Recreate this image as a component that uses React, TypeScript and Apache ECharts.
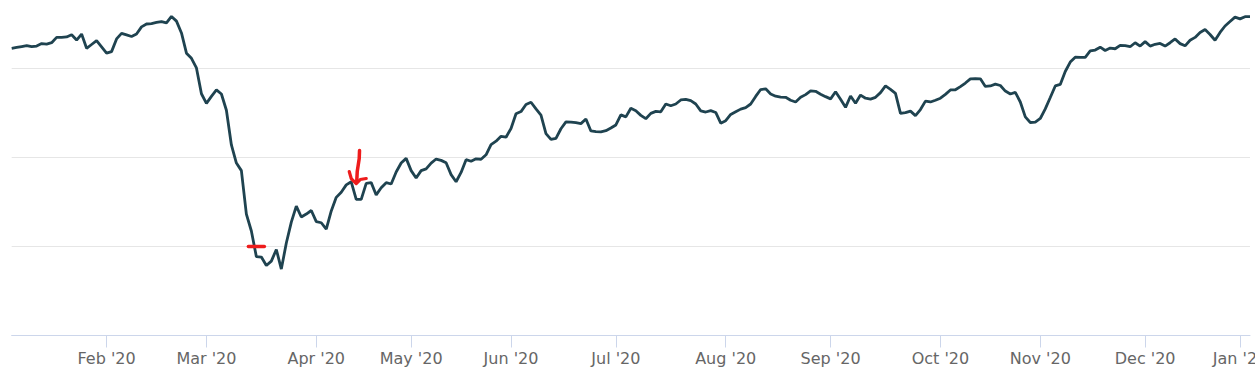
import React, { useEffect, useRef } from "react";
import * as echarts from "echarts";

// Month labels and trading-day values
const monthLabels = ["Jan '20", "Feb '20", "Mar '20", "Apr '20", "May '20", "Jun '20", "Jul '20", "Aug '20", "Sep '20", "Oct '20", "Nov '20", "Dec '20", "Jan '21"];

const jan20 = [3289, 3293, 3297, 3301, 3296, 3299, 3310, 3308, 3314, 3338, 3338, 3340, 3350, 3326, 3353, 3289, 3306, 3323, 3295];
const feb20 = [3267, 3274, 3331, 3356, 3349, 3342, 3353, 3385, 3398, 3400, 3405, 3409, 3403, 3432, 3411, 3358, 3267, 3244, 3201, 3085];
const mar20 = [3042, 3073, 3102, 3084, 3011, 2855, 2774, 2740, 2545, 2469, 2354, 2352, 2314, 2334, 2386, 2298, 2415, 2509, 2581, 2532, 2545, 2561];
const apr20 = [2511, 2506, 2477, 2559, 2620, 2643, 2676, 2690, 2611, 2611, 2683, 2686, 2631, 2663, 2686, 2680, 2734, 2774, 2795];
const may20 = [2740, 2707, 2740, 2748, 2774, 2792, 2786, 2775, 2722, 2690, 2732, 2789, 2782, 2793, 2791, 2811, 2857, 2872, 2894, 2890];
const jun20 = [2929, 2995, 3005, 3037, 3047, 3017, 2989, 2906, 2880, 2885, 2928, 2959, 2958, 2955, 2951, 2972, 2918, 2915, 2914, 2919, 2931];
const jul20 = [2945, 2990, 2981, 3020, 3009, 2988, 2973, 2997, 3006, 3004, 3039, 3031, 3039, 3057, 3060, 3054, 3039, 3008, 3003, 3009, 3001, 2953];
const aug20 = [2964, 2992, 3004, 3016, 3023, 3039, 3073, 3104, 3107, 3084, 3074, 3070, 3069, 3056, 3048, 3069, 3081, 3098, 3096, 3083, 3072];
const sep20 = [3062, 3094, 3060, 3024, 3075, 3042, 3079, 3065, 3061, 3069, 3090, 3120, 3105, 3087, 2997, 3000, 3007, 2987, 3014, 3052, 3048, 3056];
const oct20 = [3065, 3082, 3102, 3103, 3117, 3133, 3152, 3153, 3152, 3118, 3120, 3128, 3122, 3097, 3084, 3091, 3048, 2981, 2956, 2958];
const nov20 = [2974, 3017, 3068, 3120, 3127, 3185, 3227, 3249, 3248, 3248, 3277, 3281, 3294, 3279, 3290, 3287, 3302, 3301, 3296, 3314, 3299];
const dec20 = [3319, 3299, 3307, 3311, 3299, 3314, 3331, 3310, 3300, 3325, 3338, 3360, 3373, 3351, 3325, 3360, 3389, 3409, 3429];
const jan21 = [3421, 3431, 3431];

const months = [jan20, feb20, mar20, apr20, may20, jun20, jul20, aug20, sep20, oct20, nov20, dec20, jan21];

// Hand-drawn red annotations anchored to data space
const dashAnchor = { index: 49, value: 2400 };
const arrowAnchor = { index: 69, value: 2682 };

export default function App() {
  const ref = useRef<HTMLDivElement>(null);

  useEffect(() => {
    if (!ref.current) return;
    const chart = echarts.init(ref.current, null, { renderer: "svg" });

    const categories: string[] = [];
    const values: number[] = [];
    months.forEach((arr, m) => {
      arr.forEach((v, k) => {
        categories.push(monthLabels[m] + "|" + k);
        values.push(v);
      });
    });
    const isMonthStart = (index: number, value: string) =>
      index > 0 && String(value).endsWith("|0");

    chart.setOption({
      animation: false,
      grid: {
        left: 11.7,
        right: 5,
        top: -21,
        bottom: 39.5,
        containLabel: false,
        outerBoundsMode: "none",
      },
      xAxis: {
        type: "category",
        data: categories,
        boundaryGap: false,
        axisLine: { show: true, lineStyle: { color: "#ccd6eb", width: 1 } },
        axisTick: {
          show: true,
          length: 12,
          interval: isMonthStart,
          lineStyle: { color: "#ccd6eb", width: 1 },
        },
        axisLabel: {
          interval: isMonthStart,
          formatter: (v: string) => v.split("|")[0],
          color: "#666666",
          fontSize: 16,
          fontFamily: "DejaVu Sans",
          margin: 14.5,
          hideOverlap: false,
        },
        splitLine: { show: false },
      },
      yAxis: {
        type: "value",
        min: 2000,
        max: 3600,
        interval: 400,
        axisLine: { show: false },
        axisTick: { show: false },
        axisLabel: { show: false },
        splitLine: { show: true, lineStyle: { color: "#e6e6e6", width: 1 } },
      },
      series: [
        {
          type: "line",
          data: values,
          showSymbol: false,
          symbol: "none",
          lineStyle: { color: "#1f4350", width: 2.8 },
          silent: true,
        },
      ],
    });

    const d = chart.convertToPixel({ xAxisIndex: 0, yAxisIndex: 0 }, [dashAnchor.index, dashAnchor.value]) as number[];
    const a = chart.convertToPixel({ xAxisIndex: 0, yAxisIndex: 0 }, [arrowAnchor.index, arrowAnchor.value]) as number[];
    const red = "#ee1c1c";
    chart.setOption({
      graphic: [
        {
          type: "line",
          shape: { x1: d[0] - 8, y1: d[1], x2: d[0] + 8, y2: d[1] },
          style: { stroke: red, lineWidth: 3.5, lineCap: "round" },
          z: 100,
        },
        {
          type: "polyline",
          shape: { points: [[a[0] + 3.3, a[1] - 33], [a[0] + 3, a[1] - 25], [a[0] + 1, a[1] - 12], [a[0] + 0.5, a[1] - 2]] },
          style: { stroke: red, lineWidth: 3.5, lineCap: "round", lineJoin: "round", fill: null },
          z: 100,
        },
        {
          type: "polyline",
          shape: { points: [[a[0] - 7, a[1] - 12], [a[0] - 5, a[1] - 5], [a[0], a[1]], [a[0] + 4, a[1] - 4], [a[0] + 10, a[1] - 5]] },
          style: { stroke: red, lineWidth: 3.2, lineCap: "round", lineJoin: "round", fill: null },
          z: 100,
        },
      ],
    });

    return () => chart.dispose();
  }, []);

  return (
    <div
      ref={ref}
      style={{ position: "fixed", left: 0, top: 0, width: 1255, height: 375, background: "#ffffff" }}
    />
  );
}
